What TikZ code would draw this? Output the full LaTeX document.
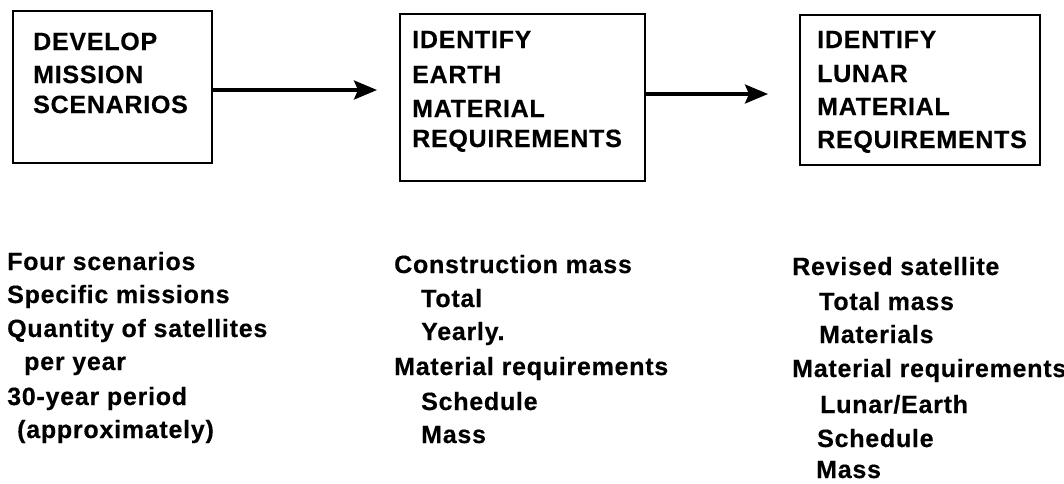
\documentclass[tikz,border=0pt]{standalone}
\usepackage{fontspec}
\setmainfont{Liberation Sans}[LetterSpace=3,BoldFeatures={FakeBold=0.4}]
\usetikzlibrary{arrows.meta}
\begin{document}
\begin{tikzpicture}[x=1pt,y=-1pt,
  box/.style={draw,line width=2.8pt,inner sep=0pt},
  txt/.style={anchor=base west,inner sep=0pt,font=\fontsize{25}{30}\selectfont\bfseries},
  conn/.style={line width=3.2pt,-{Stealth[length=23pt,width=19pt,inset=4pt]}}]
\useasboundingbox (0,0) rectangle (1064,483);
% boxes
\node[box,minimum width=199pt,minimum height=152pt] (b1) at (112.5,87) {};
\node[box,minimum width=245pt,minimum height=167pt] (b2) at (522.5,97.5) {};
\node[box,minimum width=240pt,minimum height=150pt] (b3) at (920,90) {};
% box texts
\node[txt] (b1l1) at (33,50) {DEVELOP};
\node[txt] (b1l2) at (33,83) {MISSION};
\node[txt] (b1l3) at (33,113) {SCENARIOS};
\node[txt] (b2l1) at (412,48) {IDENTIFY};
\node[txt] (b2l2) at (412,83) {EARTH};
\node[txt] (b2l3) at (412,117) {MATERIAL};
\node[txt] (b2l4) at (412,147) {REQUIREMENTS};
\node[txt] (b3l1) at (817,48) {IDENTIFY};
\node[txt] (b3l2) at (817,82) {LUNAR};
\node[txt] (b3l3) at (817,115) {MATERIAL};
\node[txt] (b3l4) at (817,148) {REQUIREMENTS};
% connectors
\coordinate (a1) at (377,90);
\coordinate (a2) at (768,94);
\draw[conn] (b1.east |- a1) -- (a1);
\draw[conn] (b2.east |- a2) -- (a2);
% column 1
\node[txt] (c1l1) at (7,270) {Four scenarios};
\node[txt] (c1l2) at (7,303) {Specific missions};
\node[txt] (c1l3) at (7,337) {Quantity of satellites};
\node[txt] (c1l4) at (24,370) {per year};
\node[txt] (c1l5) at (7,405) {30-year period};
\node[txt] (c1l6) at (17,438) {(approximately)};
% column 2
\node[txt] (c2l1) at (394,273) {Construction mass};
\node[txt] (c2l2) at (421,307) {Total};
\node[txt] (c2l3) at (421,340) {Yearly.};
\node[txt] (c2l4) at (394,375) {Material requirements};
\node[txt] (c2l5) at (421,410) {Schedule};
\node[txt] (c2l6) at (421,443) {Mass};
% column 3
\node[txt] (c3l1) at (792,275) {Revised satellite};
\node[txt] (c3l2) at (819,310) {Total mass};
\node[txt] (c3l3) at (819,343) {Materials};
\node[txt] (c3l4) at (792,377) {Material requirements};
\node[txt] (c3l5) at (820,413) {Lunar/Earth};
\node[txt] (c3l6) at (817,447) {Schedule};
\node[txt] (c3l7) at (816,478) {Mass};
\end{tikzpicture}
\end{document}
